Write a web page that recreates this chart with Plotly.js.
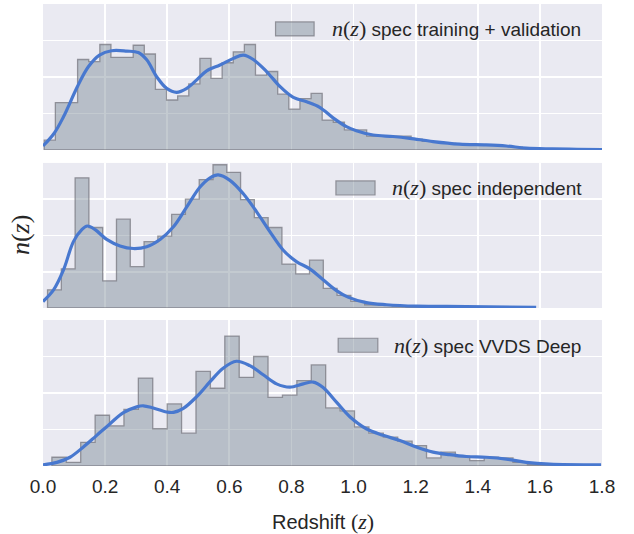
<!DOCTYPE html>
<html>
<head>
<meta charset="utf-8">
<script src="https://cdn.plot.ly/plotly-3.0.1.min.js"></script>
<style>html,body{margin:0;padding:0;background:#fff;}#chart{width:634px;height:534px;}</style>
</head>
<body>
<div id="chart"></div>
<script>
// ---------- data ----------
// Panel 1: n(z) spec training + validation
const trainBinStart = 0.004;
const trainBinWidth = 0.0358;
const trainCounts = [0.27,1.30,1.30,2.48,2.42,2.89,2.54,2.54,2.87,2.63,1.66,1.37,1.48,1.81,2.51,1.96,2.39,2.69,2.89,2.05,2.15,1.53,1.12,1.41,1.55,0.82,0.76,0.55,0.55,0.38,0.38,0.38,0.38,0.30,0.24,0.21,0.18,0.16,0.15,0.14,0.13,0.11,0.08,0.05,0.03,0.02,0.02,0.01,0.01,0.01];
const trainKdeZ = [0,0.036,0.066,0.111,0.146,0.182,0.221,0.270,0.307,0.334,0.366,0.398,0.430,0.463,0.495,0.527,0.570,0.613,0.645,0.677,0.720,0.763,0.806,0.849,0.891,0.934,0.977,1.009,1.063,1.127,1.181,1.256,1.341,1.427,1.492,1.556,1.64,1.72,1.80];
const trainKde = [0.11,0.46,0.91,1.74,2.28,2.60,2.72,2.71,2.67,2.47,2.01,1.69,1.58,1.69,1.92,2.17,2.33,2.51,2.60,2.48,2.15,1.74,1.44,1.32,1.17,0.88,0.64,0.53,0.41,0.37,0.32,0.23,0.16,0.14,0.11,0.05,0.03,0.02,0.01];

// Panel 2: n(z) spec independent
const indepBinStart = 0.0146;
const indepBinWidth = 0.0444;
const indepCounts = [0.50,1.08,3.59,2.22,0.75,2.45,1.14,1.83,1.98,2.58,3.00,3.54,3.95,3.74,2.99,2.49,2.22,1.21,0.94,1.32,0.54,0.35,0.18,0.09,0.07,0.05,0.04,0.03,0.03,0.02,0.02,0.02,0.01,0.01,0.01];
const indepKdeZ = [0,0.034,0.066,0.098,0.125,0.143,0.168,0.205,0.248,0.291,0.334,0.377,0.420,0.463,0.505,0.538,0.564,0.602,0.645,0.688,0.731,0.773,0.816,0.859,0.902,0.945,0.982,1.041,1.106,1.202,1.363,1.588];
const indepKde = [0.18,0.50,1.05,1.83,2.16,2.26,2.16,1.89,1.71,1.64,1.69,1.89,2.24,2.79,3.33,3.59,3.67,3.52,3.15,2.65,2.10,1.60,1.28,1.08,0.78,0.48,0.30,0.15,0.09,0.05,0.04,0.02];

// Panel 3: n(z) spec VVDS Deep
const vvdsBinStart = 0.0286;
const vvdsBinWidth = 0.0464;
const vvdsCounts = [0.24,0.10,0.65,1.39,1.10,1.55,2.41,1.02,1.70,0.90,2.59,2.13,3.56,2.43,3.00,1.88,1.94,2.34,2.77,1.59,1.51,1.07,0.90,0.79,0.68,0.56,0.22,0.38,0.26,0.15,0.24,0.22,0.10,0.04,0.03,0.02];
const vvdsKdeZ = [0,0.045,0.087,0.130,0.173,0.216,0.259,0.302,0.323,0.355,0.398,0.420,0.452,0.495,0.538,0.580,0.623,0.666,0.709,0.752,0.795,0.838,0.870,0.902,0.945,0.988,1.041,1.095,1.149,1.202,1.256,1.309,1.363,1.427,1.492,1.556,1.631,1.797];
const vvdsKde = [0.03,0.10,0.24,0.52,0.84,1.16,1.46,1.62,1.65,1.59,1.48,1.47,1.58,1.90,2.31,2.68,2.87,2.75,2.50,2.25,2.16,2.25,2.30,2.15,1.75,1.35,1.02,0.84,0.70,0.52,0.38,0.31,0.26,0.24,0.19,0.10,0.05,0.03];

const legendLabels = ["spec training + validation", "spec independent", "spec VVDS Deep"];
const xTickVals = [0,0.2,0.4,0.6,0.8,1.0,1.2,1.4,1.6,1.8];
const xTickText = ["0.0","0.2","0.4","0.6","0.8","1.0","1.2","1.4","1.6","1.8"];

// ---------- styles ----------
const FILL = 'rgba(112,128,144,0.42)';
const EDGE = 'rgba(120,120,128,0.75)';
const KDE_COLOR = '#4878CF';
const TEXT = '#262626';
const SANS = 'Liberation Sans, Arial, sans-serif';
const SERIF = 'Liberation Serif, Times New Roman, serif';

function stepTrace(start, width, counts, xa, ya) {
  const xs = [start], ys = [0];
  for (let i = 0; i < counts.length; i++) { xs.push(start + i * width); ys.push(counts[i]); }
  const end = start + counts.length * width;
  xs.push(end); ys.push(counts[counts.length - 1]);
  xs.push(end); ys.push(0);
  xs.push(start); ys.push(0);
  return {x: xs, y: ys, type: 'scatter', mode: 'lines', xaxis: xa, yaxis: ya,
    line: {shape: 'hv', color: EDGE, width: 1.3}, fill: 'toself', fillcolor: FILL,
    hoverinfo: 'skip', showlegend: false};
}
function kdeTrace(z, v, xa, ya) {
  return {x: z, y: v, type: 'scatter', mode: 'lines', xaxis: xa, yaxis: ya,
    line: {shape: 'spline', smoothing: 1, color: KDE_COLOR, width: 3.2},
    hoverinfo: 'skip', showlegend: false};
}

const data = [
  stepTrace(trainBinStart, trainBinWidth, trainCounts, 'x', 'y'),
  kdeTrace(trainKdeZ, trainKde, 'x', 'y'),
  stepTrace(indepBinStart, indepBinWidth, indepCounts, 'x2', 'y2'),
  kdeTrace(indepKdeZ, indepKde, 'x2', 'y2'),
  stepTrace(vvdsBinStart, vvdsBinWidth, vvdsCounts, 'x3', 'y3'),
  kdeTrace(vvdsKdeZ, vvdsKde, 'x3', 'y3')
];

function xAxis(anchor, labels) {
  return {anchor: anchor, range: [0, 1.8], tickvals: xTickVals, ticktext: xTickText,
    showticklabels: labels, showgrid: true, gridcolor: '#ffffff', gridwidth: 1.8,
    zeroline: false, showline: false, ticks: '', ticklabelstandoff: 7,
    tickfont: {family: SANS, size: 19, color: TEXT}};
}
function yAxis(anchor, dom) {
  return {anchor: anchor, domain: dom, range: [0, 4], dtick: 1, showticklabels: false,
    showgrid: true, gridcolor: '#ffffff', gridwidth: 1.8, zeroline: false, showline: false, ticks: ''};
}

const panels = [
  {xref: 'x domain', yref: 'y domain', px: [0.416, 0.485], py: [0.781, 0.877], tx: 0.513, ty: 0.829},
  {xref: 'x2 domain', yref: 'y2 domain', px: [0.524, 0.594], py: [0.779, 0.876], tx: 0.621, ty: 0.828},
  {xref: 'x3 domain', yref: 'y3 domain', px: [0.528, 0.599], py: [0.779, 0.875], tx: 0.624, ty: 0.828}
];
const shapes = panels.map(p => ({type: 'rect', xref: p.xref, yref: p.yref,
  x0: p.px[0], x1: p.px[1], y0: p.py[0], y1: p.py[1], fillcolor: FILL, line: {color: EDGE, width: 1.2}}));
const mathNZ = '<span style="font-family:' + SERIF + ';font-size:22px"><i>n</i>(<i>z</i>)</span>';
const annotations = panels.map((p, i) => ({xref: p.xref, yref: p.yref, x: p.tx, y: p.ty,
  xanchor: 'left', yanchor: 'middle', showarrow: false,
  text: mathNZ + ' ' + legendLabels[i], font: {family: SANS, size: 19, color: TEXT}}));
annotations.push({xref: 'paper', yref: 'paper', x: 0.5, y: -0.1206, xanchor: 'center', yanchor: 'middle',
  showarrow: false, font: {family: SANS, size: 20, color: TEXT},
  text: 'Redshift <span style="font-family:' + SERIF + ';font-size:22px">(<i>z</i>)</span>'});
annotations.push({xref: 'paper', yref: 'paper', x: -0.0400, y: 0.499, xanchor: 'center', yanchor: 'middle',
  textangle: -90, showarrow: false, font: {family: SERIF, size: 26, color: TEXT},
  text: '<i>n</i>(<i>z</i>)'});

const layout = {
  width: 634, height: 534,
  margin: {l: 43, r: 32, t: 4, b: 68, pad: 0},
  paper_bgcolor: '#ffffff', plot_bgcolor: '#EAEAF2',
  showlegend: false,
  xaxis: xAxis('y', false), yaxis: yAxis('x', [0.684, 1]),
  xaxis2: xAxis('y2', false), yaxis2: yAxis('x2', [0.342, 0.656]),
  xaxis3: xAxis('y3', true), yaxis3: yAxis('x3', [0, 0.316]),
  shapes: shapes, annotations: annotations
};

Plotly.newPlot('chart', data, layout, {staticPlot: true, displayModeBar: false});
</script>
</body>
</html>
